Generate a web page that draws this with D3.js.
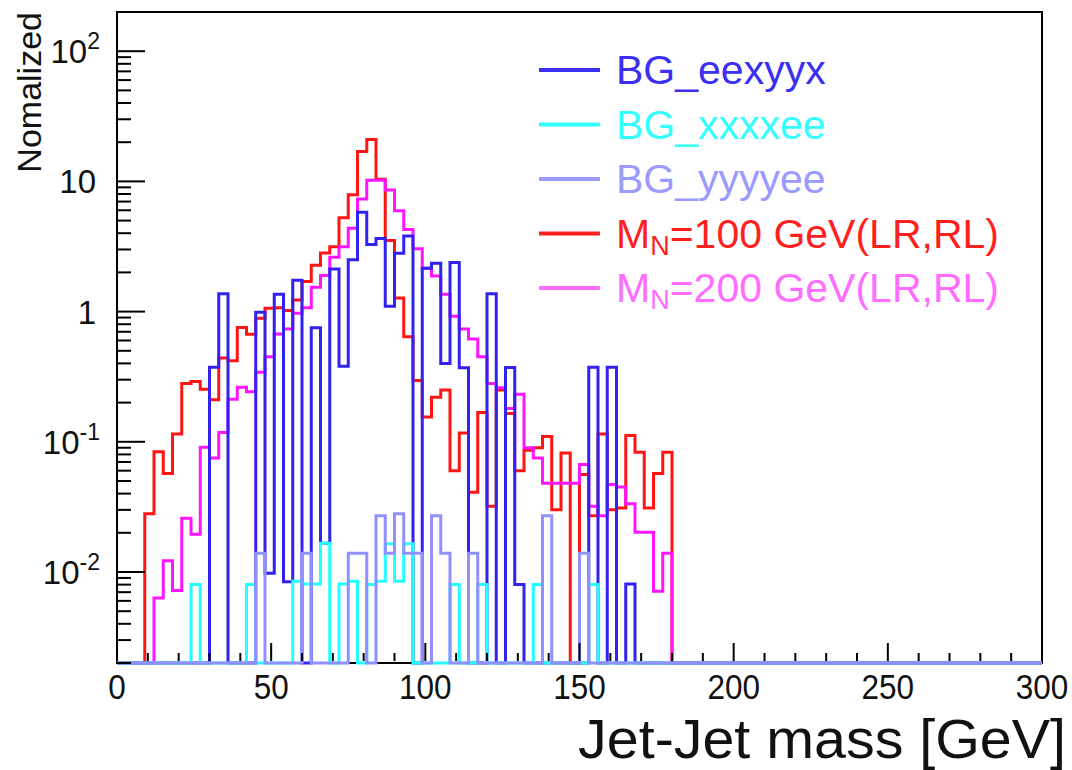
<!DOCTYPE html>
<html>
<head>
<meta charset="utf-8">
<script src="https://cdn.jsdelivr.net/npm/d3@7"></script>
<style>
  body { margin: 0; background: #fff; }
  svg { display: block; }
  text { font-family: "Liberation Sans", Arial, Helvetica, sans-serif; }
</style>
</head>
<body>
<svg id="chart" width="1072" height="770"></svg>
<script>
// Jet-jet invariant mass, 3 GeV bins; listed bins cover 0-180 GeV, the rest are empty.
const binWidth = 3;
const massRange = [0, 300];
const yRange = [0.002, 200];

const xTickValues = [0, 50, 100, 150, 200, 250, 300];
const yTickValues = [100, 10, 1, 0.1, 0.01];
const yTickLabels = [["10", "2"], ["10", ""], ["1", ""], ["10", "-1"], ["10", "-2"]];

const seriesNames = ["BG_eexyyx", "BG_xxxxee", "BG_yyyyee", "M_N=100 GeV(LR,RL)", "M_N=200 GeV(LR,RL)"];

const bgEexyyx = [
  0, 0, 0, 0, 0, 0, 0, 0, 0, 0,
  0.374, 1.37, 0, 0, 0, 0.99, 0.0098, 1.36, 0.0084, 1.74,
  0, 0.75, 0.0166, 2.12, 0.38, 2.5, 5.8, 3.27, 3.65, 1.1,
  2.8, 3.8, 0, 2.15, 2.35, 0.4, 2.38, 0.37, 0, 0,
  1.37, 0, 0.372, 0.008, 0, 0, 0, 0, 0, 0,
  0, 0.374, 0, 0.374, 0, 0.0081, 0, 0, 0, 0
];
const bgXxxxee = [
  0, 0, 0, 0, 0, 0, 0, 0, 0.008, 0,
  0, 0, 0, 0, 0.008, 0, 0, 0, 0, 0.0085,
  0.0081, 0.0081, 0.0166, 0, 0.0081, 0.0085, 0, 0.008, 0.0085, 0.0165,
  0.0085, 0.0165, 0, 0, 0, 0, 0.008, 0, 0, 0.008,
  0, 0, 0, 0, 0, 0.008, 0, 0, 0, 0,
  0, 0.008, 0, 0, 0, 0, 0, 0, 0, 0
];
const bgYyyyee = [
  0, 0, 0, 0, 0, 0, 0, 0, 0, 0,
  0, 0, 0, 0, 0, 0.0139, 0, 0, 0, 0,
  0.0139, 0, 0, 0, 0, 0.0139, 0.0139, 0, 0.027, 0.0139,
  0.028, 0.0139, 0.0139, 0, 0.027, 0.0139, 0, 0, 0.0139, 0,
  0, 0, 0, 0, 0, 0, 0.027, 0, 0, 0,
  0.0139, 0, 0, 0, 0, 0, 0, 0, 0, 0
];
const sigMN100 = [
  0, 0, 0, 0.028, 0.084, 0.057, 0.115, 0.28, 0.29, 0.253,
  0.21, 0.44, 0.42, 0.755, 0.67, 0.89, 1.06, 1.07, 1.02, 1.23,
  1.7, 2.27, 2.82, 3.15, 5.25, 7.9, 17, 21, 10.4, 3.52,
  1.27, 0.64, 0.296, 0.155, 0.22, 0.25, 0.06, 0.117, 0.041, 0.168,
  0.032, 0.25, 0.165, 0.06, 0.086, 0.09, 0.11, 0.03, 0.082, 0,
  0.056, 0.027, 0.115, 0.03, 0.031, 0.112, 0.083, 0.031, 0.057, 0.083
];
const sigMN200 = [
  0, 0, 0, 0, 0.0063, 0.0122, 0.0072, 0.0259, 0.0195, 0.091,
  0.075, 0.118, 0.212, 0.262, 0.242, 0.342, 0.45, 0.674, 0.736, 0.97,
  1.07, 1.54, 1.89, 2.61, 3.15, 4.37, 7.33, 10.2, 10.2, 8.6,
  5.95, 4.28, 3.04, 2.15, 1.88, 1.36, 0.92, 0.735, 0.615, 0.45,
  0.28, 0.26, 0.18, 0.232, 0.09, 0.075, 0.048, 0.048, 0.048, 0.048,
  0.067, 0.032, 0.027, 0.047, 0.045, 0.0335, 0.0202, 0.0202, 0.0071, 0.0139
];

const legendColors = ["#3a2ff2", "#33ffff", "#9a9aff", "#ff1f1f", "#ff6cff"];
const lineColors = ["#3222f2", "#22ffff", "#9090ff", "#ff1414", "#ff14ff"];

// Drawing order: signals first, backgrounds on top.
const drawOrder = [
  { vals: sigMN100, color: lineColors[3] },
  { vals: sigMN200, color: lineColors[4] },
  { vals: bgEexyyx, color: lineColors[0] },
  { vals: bgXxxxee, color: lineColors[1] },
  { vals: bgYyyyee, color: lineColors[2] }
];

const svg = d3.select("#chart");
const frame = { left: 117, right: 1042, top: 12, bottom: 663 };

const x = d3.scaleLinear().domain(massRange).range([frame.left, frame.right]);
const y = d3.scaleLog().domain(yRange).range([frame.bottom, frame.top]);
const yc = v => y(Math.max(v, yRange[0]));

// Frame first; the histograms are painted over its bottom edge.
svg.append("rect")
  .attr("x", frame.left).attr("y", frame.top)
  .attr("width", frame.right - frame.left).attr("height", frame.bottom - frame.top)
  .attr("fill", "none").attr("stroke", "#000").attr("stroke-width", 2);

// ROOT-style step outline: one horizontal segment per bin, empty bins on the floor.
function stepPath(vals) {
  let p = `M${x(0)},${frame.bottom}`;
  vals.forEach((v, i) => {
    p += `V${yc(v)}H${x((i + 1) * binWidth)}`;
  });
  p += `V${frame.bottom}H${x(massRange[1])}`;
  return p;
}

const plot = svg.append("g");
drawOrder.forEach(s => {
  plot.append("path")
    .attr("d", stepPath(s.vals))
    .attr("fill", "none")
    .attr("stroke", s.color)
    .attr("stroke-width", 3)
    .attr("stroke-linejoin", "miter");
});

// X axis ticks (inside, pointing up)
const axes = svg.append("g").attr("stroke", "#000").attr("stroke-width", 2);
d3.range(0, 301, 10).forEach(v => {
  const major = v % 50 === 0;
  axes.append("line")
    .attr("x1", x(v)).attr("x2", x(v))
    .attr("y1", frame.bottom - 2).attr("y2", frame.bottom - (major ? 20 : 10));
});
svg.append("g").selectAll("text").data(xTickValues).join("text")
  .attr("transform", d => `translate(${x(d)},699) scale(0.9,1)`)
  .attr("text-anchor", "middle")
  .attr("font-size", 35)
  .attr("fill", "#111")
  .text(d => d);

// Y axis ticks (log decades + minor ticks)
const minorY = [];
for (let e = -3; e <= 2; e++) {
  for (let m = 2; m <= 9; m++) {
    const v = m * Math.pow(10, e);
    if (v >= yRange[0] && v <= yRange[1]) minorY.push(v);
  }
}
minorY.forEach(v => {
  axes.append("line")
    .attr("x1", frame.left).attr("x2", frame.left + 14)
    .attr("y1", y(v)).attr("y2", y(v));
});
yTickValues.forEach(v => {
  axes.append("line")
    .attr("x1", frame.left).attr("x2", frame.left + 28)
    .attr("y1", y(v)).attr("y2", y(v));
});
const yl = svg.append("g");
yTickValues.forEach((v, i) => {
  const [base, exp] = yTickLabels[i];
  const t = yl.append("text")
    .attr("x", exp ? 100 : 96).attr("y", y(v) + 12)
    .attr("text-anchor", "end")
    .attr("font-size", 33)
    .attr("fill", "#111");
  t.append("tspan").text(base);
  if (exp) t.append("tspan").attr("dy", -14).attr("font-size", 23).text(exp);
});

// Axis titles
svg.append("text")
  .attr("transform", `translate(41,${frame.top}) rotate(-90)`)
  .attr("text-anchor", "end")
  .attr("font-size", 34)
  .attr("fill", "#111")
  .text("Nomalized");
svg.append("text")
  .attr("transform", "translate(1066,758) scale(1.025,1)")
  .attr("text-anchor", "end")
  .attr("font-size", 56)
  .attr("fill", "#111")
  .text("Jet-Jet mass [GeV]");

// Legend
const legend = svg.append("g");
seriesNames.forEach((name, i) => {
  const cy = 70 + i * 54.5;
  legend.append("line")
    .attr("x1", 539).attr("x2", 600)
    .attr("y1", cy).attr("y2", cy)
    .attr("stroke", legendColors[i]).attr("stroke-width", 4);
  const t = legend.append("text")
    .attr("x", 616).attr("y", cy + 14)
    .attr("font-size", 41)
    .attr("fill", legendColors[i]);
  if (name.startsWith("M_N")) {
    t.append("tspan").text("M");
    t.append("tspan").attr("dy", 7).attr("font-size", 27).text("N");
    t.append("tspan").attr("dy", -7).text(name.slice(3));
  } else {
    t.text(name);
  }
});
</script>
</body>
</html>
